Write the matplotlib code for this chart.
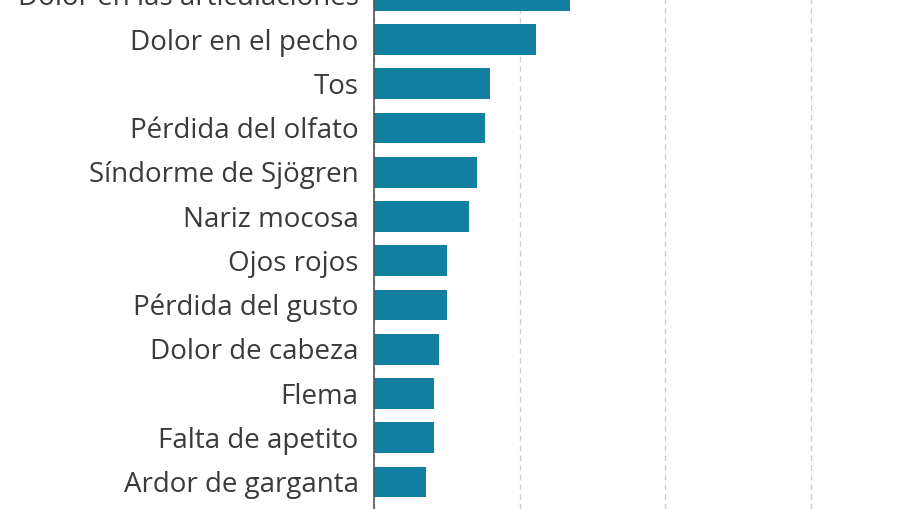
import matplotlib.pyplot as plt

# sintomas y porcentaje estimado
sintomas = ["Dolor en las articulaciones", "Dolor en el pecho", "Tos",
            "Pérdida del olfato", "Síndorme de Sjögren", "Nariz mocosa",
            "Ojos rojos", "Pérdida del gusto", "Dolor de cabeza", "Flema",
            "Falta de apetito", "Ardor de garganta"]
valores = [13.5, 11.1, 8.0, 7.6, 7.1, 6.5, 5.0, 5.0, 4.5, 4.1, 4.1, 3.6]
marcas = [0, 10, 20, 30]

plt.rcParams['font.family'] = ['Open Sans', 'DejaVu Sans']

fig = plt.figure(figsize=(9, 5.1), dpi=100)
ax = fig.add_axes([374 / 900, 0, 1 - 374 / 900, 1])

pos = list(range(len(sintomas)))
ax.barh(pos, valores, height=0.7, color="#1380A1", zorder=3)

# etiquetas a mano para que la de arriba (cortada) tambien se dibuje
ax.set_yticks([])
for p, s in zip(pos, sintomas):
    ax.annotate(s, xy=(0, p), xycoords=("axes fraction", "data"),
                xytext=(-11, -1.5), textcoords="offset points",
                ha="right", va="center", fontsize=20, color="#3a3a3a",
                annotation_clip=False)

ax.set_xticks(marcas)
ax.tick_params(axis="x", length=0, labelbottom=False)
ax.xaxis.grid(True, linestyle=(0, (4, 3)), color="#cccccc", linewidth=1, zorder=0)

ax.set_xlim(0, 526 / 14.55)
ax.set_ylim(11.61, 0.0847)

for s in ["top", "right", "bottom"]:
    ax.spines[s].set_visible(False)
ax.spines["left"].set_color("#555555")
ax.spines["left"].set_linewidth(1.2)
ax.spines["left"].set_zorder(4)

fig.savefig("out.png", dpi=100)
